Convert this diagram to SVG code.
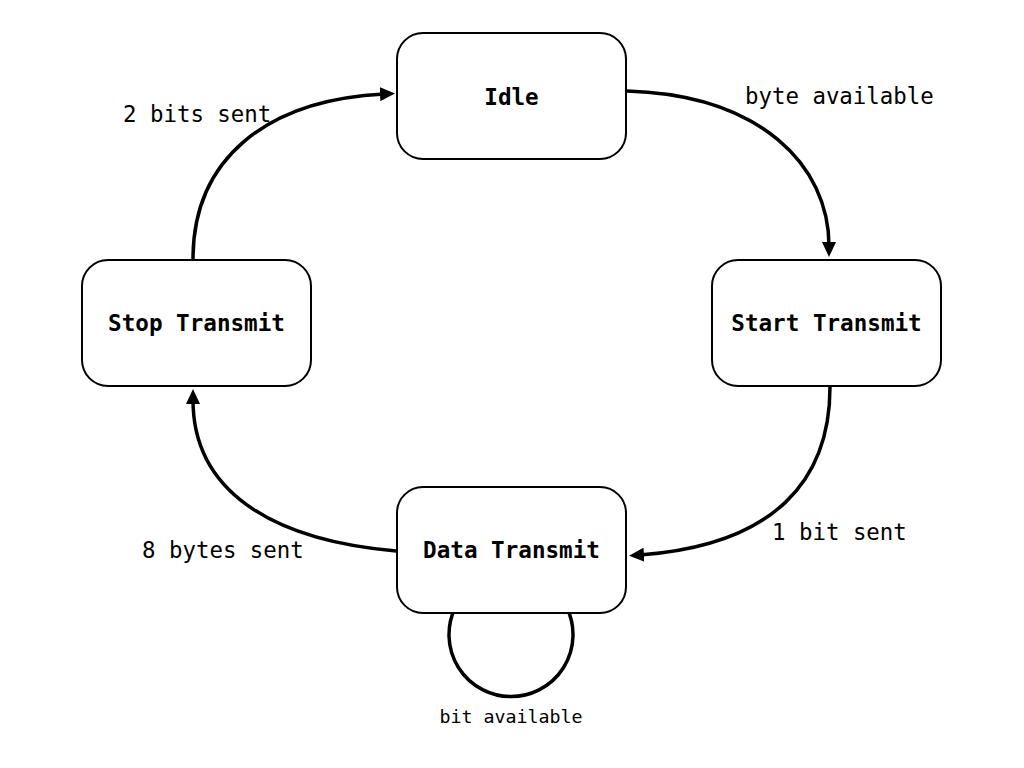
<svg xmlns="http://www.w3.org/2000/svg" width="1024" height="768" viewBox="0 0 1024 768">
<style>
.node rect{fill:#fff;stroke:#000;stroke-width:2}
.node text{font-family:"DejaVu Sans Mono","Liberation Mono",monospace;font-weight:bold;font-size:22.6px;text-anchor:middle;dominant-baseline:central;fill:#000}
.edge{fill:none;stroke:#000;stroke-width:3.5}
.lbl{font-family:"DejaVu Sans Mono","Liberation Mono",monospace;font-size:22.4px;fill:#000}
</style>
<defs>
<marker id="arr" markerUnits="userSpaceOnUse" markerWidth="16" markerHeight="14" refX="4" refY="7" orient="auto" viewBox="0 0 16 14">
<path d="M0,0 L15,7 L0,14 z" fill="#000"/>
</marker>
</defs>
<rect width="1024" height="768" fill="#fff"/>
<g id="connectors">
<path class="edge" d="M627,91 C760,95 829,165 829,246" marker-end="url(#arr)"/>
<path class="edge" d="M830,387 C830,480 775,545 640,555" marker-end="url(#arr)"/>
<path class="edge" d="M396,551 C270,540 193,490 193,400" marker-end="url(#arr)"/>
<path class="edge" d="M193,259 C193,160 265,100 384,94" marker-end="url(#arr)"/>
<path class="edge" d="M455,608 A62,62 0 1 0 567,608"/>
</g>
<g id="idle" class="node"><rect x="397" y="33" width="229" height="126" rx="26"/><text x="511.5" y="97">Idle</text></g>
<g id="start" class="node"><rect x="712" y="260" width="229" height="126" rx="26"/><text x="826.5" y="323">Start Transmit</text></g>
<g id="stop" class="node"><rect x="82" y="260" width="229" height="126" rx="26"/><text x="196.5" y="323">Stop Transmit</text></g>
<g id="data" class="node"><rect x="397" y="487" width="229" height="126" rx="26"/><text x="511.5" y="550">Data Transmit</text></g>
<g id="labels">
<text class="lbl" x="745" y="104">byte available</text>
<text class="lbl" x="123" y="122">2 bits sent</text>
<text class="lbl" x="772" y="540">1 bit sent</text>
<text class="lbl" x="142" y="558">8 bytes sent</text>
<text class="lbl" x="511" y="723" text-anchor="middle" style="font-size:18.3px">bit available</text>
</g>
</svg>
